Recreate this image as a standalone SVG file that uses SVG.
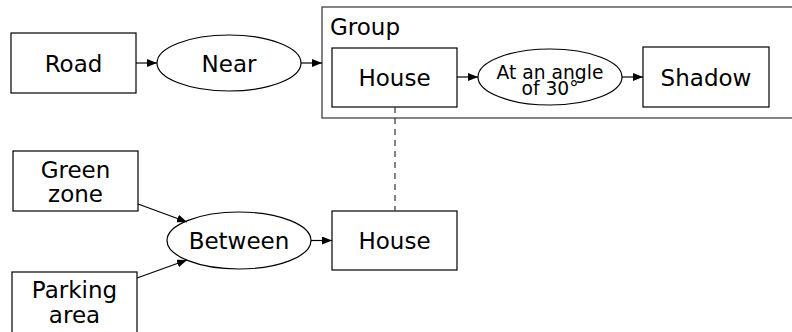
<svg xmlns="http://www.w3.org/2000/svg" width="792" height="332" viewBox="0 0 792 332">
<style>
  .box { fill: #fff; stroke: #000; stroke-width: 1.2; }
  .grp { fill: #fff; stroke: #333; stroke-width: 1.2; }
  text { font-family: "DejaVu Sans", sans-serif; font-size: 23px; fill: #000; text-anchor: middle; }
  .small { font-size: 18.7px; }
  .conn { stroke: #000; stroke-width: 1.2; fill: none; marker-end: url(#arr); }
  .dash { stroke: #333; stroke-width: 1.2; fill: none; stroke-dasharray: 6 5; }
</style>
<defs>
  <marker id="arr" viewBox="0 0 10 8" refX="10" refY="4" markerWidth="10" markerHeight="8" markerUnits="userSpaceOnUse" orient="auto">
    <path d="M0,0 L10,4 L0,8 z" fill="#000"/>
  </marker>
</defs>
<rect width="792" height="332" fill="#fff"/>
<g id="group">
  <rect class="grp" x="322" y="7" width="480" height="111"/>
  <text x="330" y="35" style="text-anchor:start">Group</text>
</g>
<g id="road">
  <rect class="box" x="11" y="33" width="125" height="60"/>
  <text x="73.5" y="71.5">Road</text>
</g>
<g id="near">
  <ellipse class="box" cx="229" cy="63" rx="72" ry="28"/>
  <text x="229" y="71.5">Near</text>
</g>
<g id="house1">
  <rect class="box" x="332" y="48" width="125" height="59"/>
  <text x="394.5" y="85.5">House</text>
</g>
<g id="angle">
  <ellipse class="box" cx="550" cy="77" rx="72" ry="28"/>
  <text class="small" x="550" y="78.5">At an angle</text>
  <text class="small" x="550" y="95">of 30°</text>
</g>
<g id="shadow">
  <rect class="box" x="643" y="47" width="126" height="60"/>
  <text x="706" y="85.5">Shadow</text>
</g>
<g id="greenzone">
  <rect class="box" x="13" y="151" width="125" height="60"/>
  <text x="75.5" y="178">Green</text>
  <text x="75.5" y="202">zone</text>
</g>
<g id="parking">
  <rect class="box" x="12" y="272" width="125" height="62"/>
  <text x="74.5" y="298">Parking</text>
  <text x="74.5" y="323">area</text>
</g>
<g id="between">
  <ellipse class="box" cx="239" cy="240.5" rx="72" ry="28.5"/>
  <text x="239" y="248.5">Between</text>
</g>
<g id="house2">
  <rect class="box" x="332" y="211" width="125" height="59"/>
  <text x="394.5" y="248.5">House</text>
</g>
<g id="connectors">
  <line class="conn" x1="136" y1="63" x2="157" y2="63"/>
  <line class="conn" x1="301" y1="63" x2="322" y2="63"/>
  <line class="conn" x1="457" y1="77" x2="478" y2="77"/>
  <line class="conn" x1="622" y1="77" x2="643" y2="77"/>
  <line class="conn" x1="138" y1="204" x2="187" y2="222"/>
  <line class="conn" x1="137" y1="278" x2="187" y2="260"/>
  <line class="conn" x1="311" y1="240.5" x2="332" y2="240.5"/>
  <line class="dash" x1="395" y1="107" x2="395" y2="211"/>
</g>
</svg>
